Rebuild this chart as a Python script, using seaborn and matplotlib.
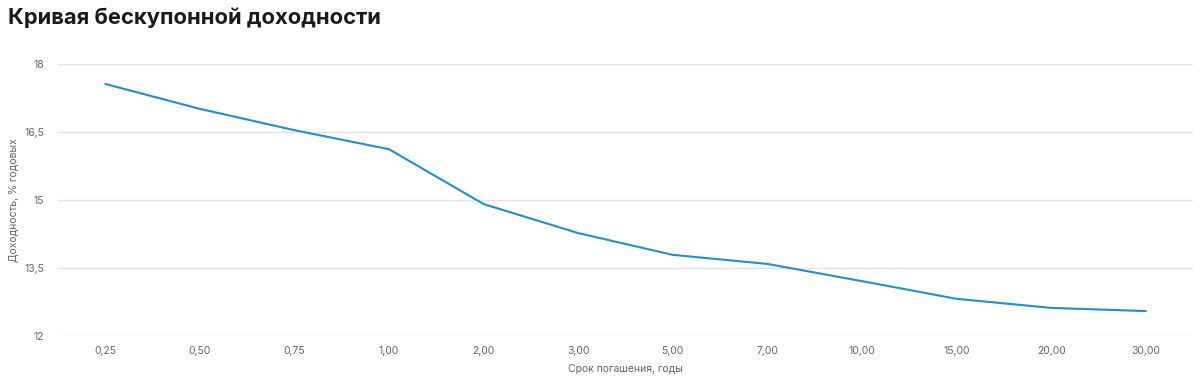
import matplotlib
matplotlib.use("Agg")
import matplotlib.pyplot as plt
import seaborn as sns
import pandas as pd

categories = ["0,25", "0,50", "0,75", "1,00", "2,00", "3,00", "5,00", "7,00",
              "10,00", "15,00", "20,00", "30,00"]
yields = [17.56, 17.01, 16.54, 16.12, 14.91, 14.27, 13.79, 13.59, 13.21, 12.82, 12.62, 12.55]
y_ticks = [12, 13.5, 15, 16.5, 18]
y_tick_labels = ["12", "13,5", "15", "16,5", "18"]

title = "Кривая бескупонной доходности"
x_label = "Срок погашения, годы"
y_label = "Доходность, % годовых"

sns.set_theme(style="white")
plt.rcParams['font.family'] = ['Inter', 'DejaVu Sans']

df = pd.DataFrame({"term": categories, "yield": yields})

fig = plt.figure(figsize=(12, 3.76), dpi=100)
ax_left, ax_w = 58/1200, (1193-58)/1200
ax = fig.add_axes([ax_left, 40/376, ax_w, (336-64)/376])

sns.lineplot(data=df, x="term", y="yield", ax=ax, color="#2190c4", linewidth=1.5, sort=False)

ax.set_xlim(-0.5, len(categories) - 0.5)
ax.set_ylim(12, 18)
ax.set_yticks(y_ticks)
ax.set_yticklabels(y_tick_labels)
ax.grid(axis="y", color="#e3e3e3", linewidth=1)
ax.grid(axis="x", visible=False)
for s in ax.spines.values():
    s.set_visible(False)
ax.tick_params(axis="both", length=0, labelsize=7.5, labelcolor="#666666")
ax.tick_params(axis="y", pad=10)
ax.tick_params(axis="x", pad=7)

ax.set_xlabel(x_label, fontsize=7.5, color="#666666", labelpad=6)
ax.set_ylabel(y_label, fontsize=7.5, color="#666666", va="center")
ax.yaxis.set_label_coords((14 - 58) / (1193 - 58), 0.5)

fig.text(8/1200, 1 - 18/376, title, fontsize=15.8, fontweight="bold", color="#1a1a1a",
         ha="left", va="center")

fig.savefig("out.png", dpi=100)
